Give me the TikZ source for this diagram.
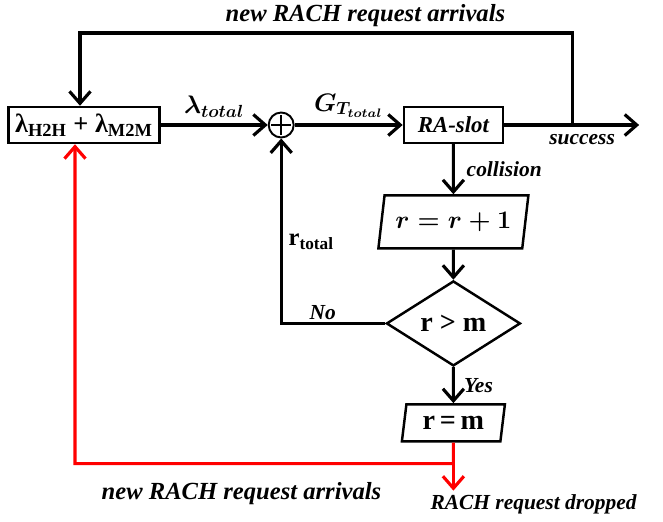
\documentclass[tikz,border=0pt]{standalone}
\usepackage{amsmath}
\usepackage{fontspec}
\setmainfont{Liberation Serif}
\usepackage{tikz}
\usetikzlibrary{shapes.geometric, positioning}
\usetikzlibrary{arrows.meta}
\tikzset{>={Straight Barb[length=2.4mm,width=4.2mm]}}

\begin{document}
\begin{tikzpicture}[box/.style={rectangle, draw=black, line width=1.4pt, minimum height=0.72cm, inner sep=2pt}, sum/.style={circle, draw=black, line width=1.1pt, minimum size=0.5cm, inner sep=0pt, path picture={\draw[line width=0.9pt] ([yshift=-1.5pt]path picture bounding box.north) -- ([yshift=1.5pt]path picture bounding box.south) ([xshift=1.5pt]path picture bounding box.west) -- ([xshift=-1.5pt]path picture bounding box.east);}}, io/.style={trapezium, trapezium left angle=75, trapezium right angle=105, trapezium stretches body, draw=black, line width=1.4pt, inner sep=1pt}, check/.style={diamond, draw=black, line width=1.4pt, minimum width=2.68cm, minimum height=1.7cm, inner sep=0pt}, lbl/.style={font=\fontsize{12.2}{14}\selectfont\bfseries\itshape, inner sep=1pt}, biglbl/.style={font=\fontsize{14}{16}\selectfont\bfseries\itshape, inner sep=1pt}, conn/.style={->, line width=1.8pt}]

    \useasboundingbox (-1.68,2.50) rectangle (11.58,-7.92);

    %Nodes
    \node[box, minimum width=3.02cm](src){\fontsize{15}{17}\selectfont\bfseries λ\textsubscript{H2H} + λ\textsubscript{M2M}};
    \node[sum](add)[right=2.14cm of src]{};
    \node[box, minimum width=1.98cm, font=\fontsize{13}{15}\selectfont\bfseries\itshape](slot)[right=2.16cm of add]{RA-slot};
    \node[io, minimum width=3cm, minimum height=1.06cm](inc)[below=1cm of slot]{\fontsize{15}{17}\selectfont$\boldsymbol{r = r+1}$};
    \node[check](test)[below=0.6cm of inc]{\fontsize{16}{18}\selectfont\bfseries r > m};
    \node[io, minimum width=2.06cm, minimum height=0.74cm](cap)[below=0.72cm of test]{\fontsize{16}{18}\selectfont\bfseries r\,=\,m};
    \coordinate[right=1.36cm of slot](split);
    \coordinate[right=2.7cm of slot](out);
    \coordinate[above=1.84cm of split](top);
    \coordinate[below=0.42cm of cap](fork);
    \coordinate[below=0.54cm of fork](drop);
    \node[lbl](succ_lbl)[below=0.15cm of split, xshift=0.2cm]{success};
    \node[lbl](drop_lbl)[below right=0.04cm and -0.5cm of drop]{RACH request dropped};

    %Lines
    \draw[conn] (src) -- node[above, font=\fontsize{14}{16}\selectfont]{$\boldsymbol{\lambda_{total}}$} (add);
    \draw[conn] (add) -- node[above, font=\fontsize{14}{16}\selectfont]{$\boldsymbol{G_{T_{total}}}$} (slot);
    \draw[conn] (slot) -- (out);
    \draw[conn] (split) -- (top) -| node[biglbl, pos=0.21, above=0.05cm]{new RACH request arrivals} ([xshift=-0.08cm]src.north);
    \draw[conn] (slot) -- node[lbl, right=0.2cm]{collision} (inc);
    \draw[conn] (inc) -- (test);
    \draw[conn] (test) -| node[lbl, pos=0.3, above]{No} node[pos=0.72, right, font=\fontsize{14}{16}\selectfont\bfseries]{r\textsubscript{total}} (add);
    \draw[conn] (test) -- node[lbl, right=0.15cm]{Yes} (cap);
    \draw[conn, red] (cap) -- (fork) -| node[biglbl, black, pos=0.28, below=0.3cm]{new RACH request arrivals} ([xshift=-0.18cm]src.south);
    \draw[conn, red] (fork) -- (drop);
\end{tikzpicture}
\end{document}
